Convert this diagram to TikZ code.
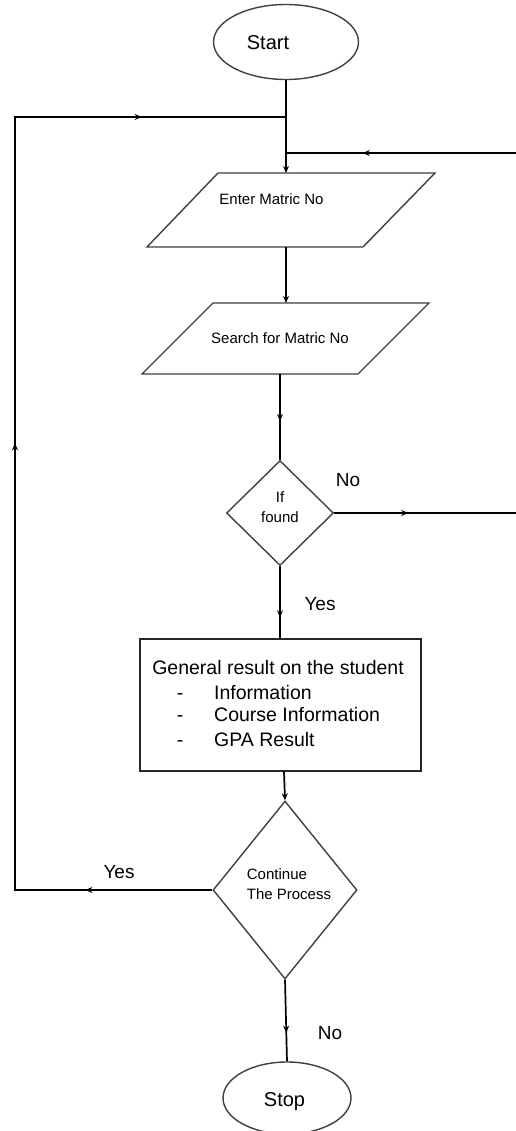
\documentclass[tikz,border=0pt]{standalone}
\usepackage{fontspec}
\setmainfont{Liberation Sans}
\usetikzlibrary{shapes.geometric,arrows.meta,decorations.markings}
\begin{document}
\begin{tikzpicture}[x=1pt,y=-1pt,
  >={Stealth[length=7pt,width=6pt]},
  conn/.style={line width=1.7pt, draw=black},
  shp/.style={line width=1.4pt, draw=black!75},
  txt/.style={inner sep=0pt, font=\fontsize{15}{20}\selectfont},
  lbl/.style={inner sep=0pt, font=\fontsize{19}{22}\selectfont},
  boxtxt/.style={inner sep=0pt, font=\fontsize{19.5}{24}\selectfont},
]
\fill[white] (0,0) rectangle (515,1131);
\useasboundingbox (0,0) rectangle (515,1131);

% shapes
\node[shp, ellipse, minimum width=145, minimum height=75] (start) at (286,42) {};
\node[lbl, font=\fontsize{20}{22}\selectfont] (starttxt) at (268,43) {Start};

\draw[shp] (218,173) -- (435,173) -- (363,247) -- (147,247) -- cycle;
\coordinate (enterT) at (286,173);
\coordinate (enterB) at (286,247);
\node[txt] (entertxt) at (271.5,199) {Enter Matric No};

\draw[shp] (213,303) -- (429,303) -- (358,374) -- (142,374) -- cycle;
\coordinate (searchT) at (286,303);
\coordinate (searchB) at (280,374);
\node[txt] (searchtxt) at (280,338) {Search for Matric No};

\node[shp, diamond, minimum width=107, minimum height=105, inner sep=0pt] (found) at (280,513) {};
\node[txt, align=center] (foundtxt) at (280,507) {If\\found};

\node[shp, draw=black!85, minimum width=281, minimum height=132, inner sep=0pt] (res) at (280.5,705) {};
\node[boxtxt, anchor=base] (restxt) at (278,674) {General result on the student};
\node[boxtxt, anchor=base] (d1) at (180,699) {-};
\node[boxtxt, anchor=base west] (i1) at (214,699) {Information};
\node[boxtxt, anchor=base] (d2) at (180,721) {-};
\node[boxtxt, anchor=base west] (i2) at (214,721) {Course Information};
\node[boxtxt, anchor=base] (d3) at (180,746) {-};
\node[boxtxt, anchor=base west] (i3) at (214,746) {GPA Result};

\node[shp, diamond, minimum width=144, minimum height=178, inner sep=0pt] (cont) at (285,890) {};
\node[txt, align=left] (conttxt) at (289,884) {Continue\\The Process};

\node[shp, ellipse, minimum width=128, minimum height=72] (stop) at (287,1098) {};
\node[lbl, font=\fontsize{20}{22}\selectfont] (stoptxt) at (284.5,1102) {Stop};

% labels
\node[lbl] (no1) at (348,480) {No};
\node[lbl] (yes1) at (320,604) {Yes};
\node[lbl] (yes2) at (119,872) {Yes};
\node[lbl] (no2) at (330,1033) {No};

% junction coordinates
\coordinate (j1) at (286,117);
\coordinate (j2) at (286,153);
\coordinate (l1) at (15,890);
\coordinate (l2) at (15,117);
\coordinate (r1) at (518,513);
\coordinate (r2) at (518,153);

% connectors
\draw[conn,->] (start.south) -- (enterT);
\draw[conn,->] (enterB) -- (searchT);
\draw[conn, postaction=decorate, decoration={markings, mark=at position 47pt with {\arrow{>}}}] (searchB) -- (found.north);
\draw[conn, postaction=decorate, decoration={markings, mark=at position 51pt with {\arrow{>}}}] (found.south) -- (res.north -| found.south);
\draw[conn,->] (res.south -| 284,0) -- (cont.north);
\draw[conn, postaction=decorate, decoration={markings, mark=at position 53pt with {\arrow{>}}}] (cont.south) -- (stop.north);

\draw[conn, postaction=decorate, decoration={markings,
    mark=at position 127pt with {\arrow{>}},
    mark=at position 644pt with {\arrow{>}},
    mark=at position 1097pt with {\arrow{>}}}]
  (cont.west) -- (l1) -- (l2) -- (j1);

\draw[conn, postaction=decorate, decoration={markings,
    mark=at position 74pt with {\arrow{>}},
    mark=at position 699pt with {\arrow{>}}}]
  (found.east) -- (r1) -- (r2) -- (j2);
\end{tikzpicture}
\end{document}
